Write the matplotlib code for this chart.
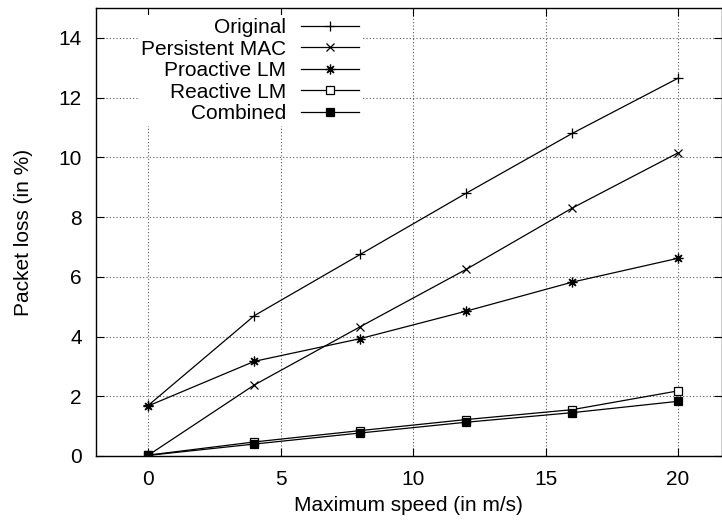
import matplotlib
matplotlib.use("Agg")
import matplotlib.pyplot as plt

plt.rcParams['font.family'] = ['Liberation Sans', 'DejaVu Sans']

speed = [0, 4, 8, 12, 16, 20]
original = [1.70, 4.70, 6.75, 8.80, 10.80, 12.65]
persistent_mac = [0.03, 2.38, 4.33, 6.25, 8.30, 10.15]
proactive_lm = [1.68, 3.17, 3.93, 4.85, 5.82, 6.62]
reactive_lm = [0.03, 0.47, 0.85, 1.22, 1.55, 2.18]
combined = [0.02, 0.40, 0.77, 1.13, 1.45, 1.83]

labels = ["Original", "Persistent MAC", "Proactive LM", "Reactive LM", "Combined"]
xticks = [0, 5, 10, 15, 20]
yticks = [0, 2, 4, 6, 8, 10, 12, 14]

fs = 15

fig = plt.figure(figsize=(7.22, 5.21), dpi=100)
ax = fig.add_axes([0.1323, 0.1248, 0.8677, 0.8598])

lw = 0.9
ax.plot(speed, original, color='black', lw=lw, marker='+', ms=7, mew=0.9, label=labels[0])
ax.plot(speed, persistent_mac, color='black', lw=lw, marker='x', ms=6, mew=0.9, label=labels[1])
ax.plot(speed, proactive_lm, color='black', lw=lw, marker=(8, 2, 0), ms=7, mew=0.9, label=labels[2])
ax.plot(speed, reactive_lm, color='black', lw=lw, marker='s', ms=5.5, mfc='white', mew=0.9, label=labels[3])
ax.plot(speed, combined, color='black', lw=lw, marker='s', ms=5.5, mfc='black', mew=0.9, label=labels[4])

ax.set_xlim(-2, 21.66)
ax.set_ylim(0, 15)
ax.set_xticks(xticks)
ax.set_yticks(yticks)
ax.tick_params(direction='in', top=True, right=True, length=6, width=0.8, labelsize=fs, pad=10)
ax.grid(True, linestyle=(0, (1, 2)), color='0.35', lw=0.8)
ax.set_axisbelow(True)
for s in ax.spines.values():
    s.set_linewidth(1.0)

ax.set_xlabel("Maximum speed (in m/s)", fontsize=fs, labelpad=5)
ax.set_ylabel("Packet loss (in %)", fontsize=fs, labelpad=18)

leg = ax.legend(loc='upper right', bbox_to_anchor=(362 / 722, 1 - 15 / 521),
                bbox_transform=fig.transFigure, markerfirst=False, frameon=True,
                fontsize=fs, handlelength=2.8, labelspacing=0.12, borderpad=0.15,
                handletextpad=0.7, borderaxespad=0)
leg.get_frame().set_facecolor('white')
leg.get_frame().set_edgecolor('none')
leg.get_frame().set_alpha(1)
for t in leg.get_texts():
    t.set_ha('right')
leg._legend_box.align = "right"

fig.savefig("out.png", dpi=100)
